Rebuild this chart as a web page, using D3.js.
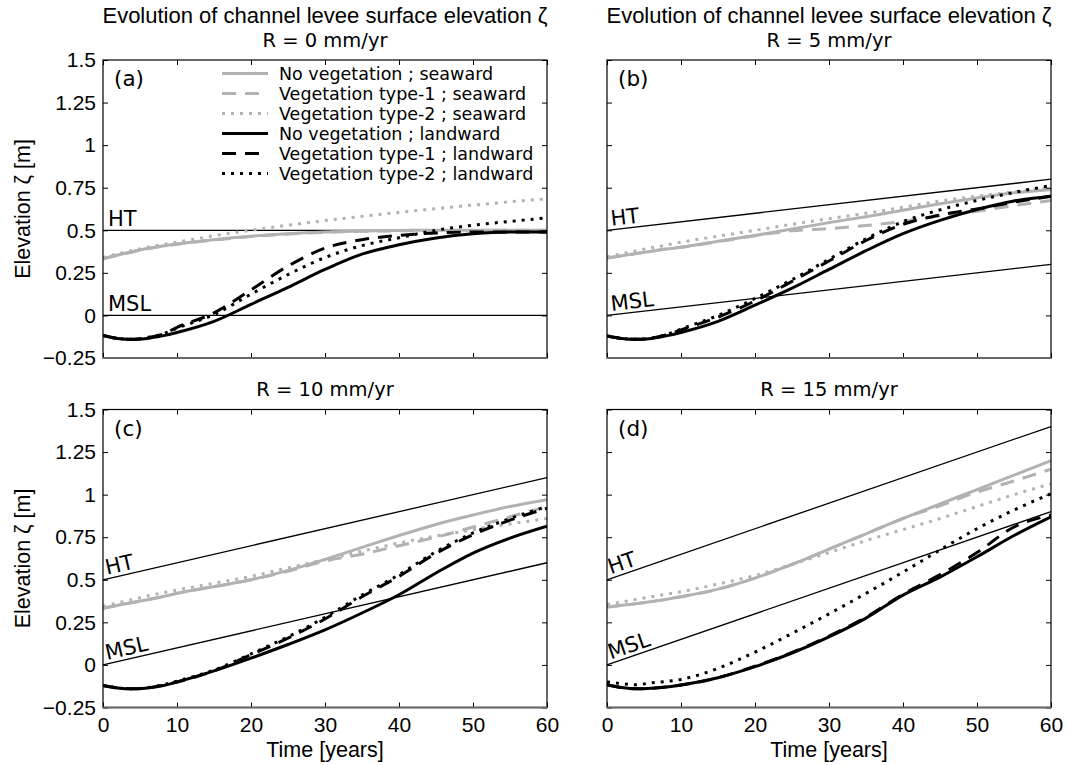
<!DOCTYPE html>
<html><head><meta charset="utf-8">
<script src="https://cdn.jsdelivr.net/npm/d3@7"></script>
<style>
body{margin:0;background:#fff;}
svg{display:block;}
.arial{font-family:"Liberation Sans",Arial,sans-serif;}
.dv{font-family:"DejaVu Sans",Verdana,sans-serif;}
</style></head>
<body>
<svg id="chart" width="1067" height="765"></svg>
<script>
// ---- data ----
const years = [0,2,4,6,8,10,15,20,25,30,35,40,45,50,55,60];
const panelLetters = ["(a)","(b)","(c)","(d)"];
const panelTitles = ["R = 0 mm/yr","R = 5 mm/yr","R = 10 mm/yr","R = 15 mm/yr"];
const mainTitle = "Evolution of channel levee surface elevation ζ";
const yTickValues = [-0.25,0,0.25,0.5,0.75,1,1.25,1.5];
const yTickLabels = ["\u22120.25","0","0.25","0.5","0.75","1","1.25","1.5"];
const xTickValues = [0,10,20,30,40,50,60];
const xTickLabels = ["0","10","20","30","40","50","60"];
const htStart = [0.5,0.5,0.5,0.5];
const htEnd = [0.5,0.8,1.1,1.4];
const mslStart = [0,0,0,0];
const mslEnd = [0,0.3,0.6,0.9];
const seriesNames = ["No vegetation ; seaward","Vegetation type-1 ; seaward","Vegetation type-2 ; seaward",
  "No vegetation ; landward","Vegetation type-1 ; landward","Vegetation type-2 ; landward"];

// panel (a) R = 0
const a_seaNoVeg = [0.333,0.355,0.375,0.393,0.408,0.42,0.445,0.465,0.48,0.49,0.496,0.499,0.5,0.5,0.5,0.5];
const a_seaVeg1  = [0.333,0.354,0.373,0.391,0.406,0.418,0.443,0.463,0.478,0.488,0.494,0.497,0.498,0.499,0.5,0.5];
const a_seaVeg2  = [0.34,0.362,0.382,0.40,0.416,0.43,0.468,0.50,0.53,0.557,0.582,0.605,0.627,0.648,0.667,0.685];
const a_landNoVeg= [-0.117,-0.135,-0.141,-0.135,-0.12,-0.1,-0.035,0.065,0.165,0.27,0.36,0.415,0.455,0.48,0.49,0.49];
const a_landVeg1 = [-0.117,-0.135,-0.14,-0.13,-0.112,-0.07,0.015,0.15,0.29,0.395,0.445,0.47,0.484,0.49,0.49,0.49];
const a_landVeg2 = [-0.117,-0.135,-0.14,-0.13,-0.11,-0.075,0.005,0.125,0.24,0.34,0.41,0.456,0.5,0.53,0.552,0.573];
// panel (b) R = 5
const b_seaNoVeg = [0.337,0.35,0.364,0.377,0.39,0.40,0.436,0.47,0.507,0.545,0.58,0.618,0.656,0.69,0.72,0.74];
const b_seaVeg1  = [0.337,0.35,0.364,0.377,0.39,0.40,0.433,0.468,0.497,0.51,0.528,0.552,0.585,0.612,0.645,0.675];
const b_seaVeg2  = [0.345,0.362,0.38,0.397,0.413,0.43,0.465,0.50,0.535,0.568,0.60,0.635,0.672,0.70,0.727,0.753];
const b_landNoVeg= [-0.12,-0.135,-0.14,-0.135,-0.12,-0.1,-0.035,0.06,0.16,0.27,0.38,0.48,0.558,0.622,0.672,0.70];
const b_landVeg1 = [-0.12,-0.135,-0.14,-0.133,-0.115,-0.085,-0.01,0.085,0.20,0.32,0.44,0.535,0.59,0.625,0.665,0.70];
const b_landVeg2 = [-0.12,-0.135,-0.14,-0.133,-0.113,-0.08,0.0,0.10,0.21,0.33,0.45,0.55,0.62,0.675,0.722,0.763];
// panel (c) R = 10
const c_seaNoVeg = [0.333,0.35,0.367,0.383,0.40,0.42,0.46,0.50,0.555,0.62,0.69,0.76,0.825,0.88,0.93,0.97];
const c_seaVeg1  = [0.333,0.35,0.367,0.383,0.40,0.42,0.46,0.50,0.55,0.61,0.65,0.70,0.75,0.81,0.87,0.93];
const c_seaVeg2  = [0.343,0.365,0.385,0.405,0.423,0.44,0.48,0.52,0.57,0.618,0.668,0.716,0.757,0.794,0.828,0.86];
const c_landNoVeg= [-0.12,-0.135,-0.14,-0.135,-0.122,-0.1,-0.035,0.04,0.12,0.206,0.305,0.412,0.54,0.657,0.745,0.815];
const c_landVeg1 = [-0.12,-0.135,-0.14,-0.135,-0.12,-0.1,-0.035,0.06,0.157,0.27,0.40,0.52,0.655,0.765,0.85,0.92];
const c_landVeg2 = [-0.12,-0.135,-0.14,-0.133,-0.118,-0.095,-0.03,0.065,0.165,0.28,0.41,0.53,0.665,0.775,0.86,0.93];
// panel (d) R = 15
const d_seaNoVeg = [0.34,0.35,0.36,0.372,0.385,0.40,0.445,0.51,0.59,0.68,0.77,0.86,0.945,1.03,1.115,1.2];
const d_seaVeg1  = [0.34,0.35,0.36,0.372,0.385,0.40,0.445,0.51,0.59,0.68,0.77,0.86,0.935,1.015,1.08,1.15];
const d_seaVeg2  = [0.355,0.37,0.385,0.40,0.415,0.43,0.475,0.525,0.59,0.66,0.73,0.795,0.86,0.93,1.0,1.064];
const d_landNoVeg= [-0.116,-0.133,-0.14,-0.137,-0.13,-0.118,-0.075,-0.01,0.07,0.165,0.275,0.41,0.516,0.635,0.76,0.87];
const d_landVeg1 = [-0.116,-0.133,-0.14,-0.137,-0.13,-0.118,-0.075,-0.008,0.073,0.17,0.28,0.415,0.53,0.66,0.81,0.88];
const d_landVeg2 = [-0.10,-0.11,-0.116,-0.105,-0.097,-0.085,-0.02,0.075,0.185,0.30,0.42,0.545,0.675,0.80,0.91,1.005];

const panelSeries = [
  [a_seaNoVeg,a_seaVeg1,a_seaVeg2,a_landNoVeg,a_landVeg1,a_landVeg2],
  [b_seaNoVeg,b_seaVeg1,b_seaVeg2,b_landNoVeg,b_landVeg1,b_landVeg2],
  [c_seaNoVeg,c_seaVeg1,c_seaVeg2,c_landNoVeg,c_landVeg1,c_landVeg2],
  [d_seaNoVeg,d_seaVeg1,d_seaVeg2,d_landNoVeg,d_landVeg1,d_landVeg2]
];

// ---- styles ----
const GRAY = "#b2b2b2";
const styles = [
  {color:GRAY, dash:null, w:3},
  {color:GRAY, dash:"14,9", w:3},
  {color:GRAY, dash:"3,6", w:3},
  {color:"#000", dash:null, w:3},
  {color:"#000", dash:"14,9", w:3},
  {color:"#000", dash:"3,6", w:3}
];

const svg = d3.select("#chart");
const W = 444, H = 298;
const origins = [[103,60],[607,60],[103,409.5],[607,409.5]];
const x = d3.scaleLinear().domain([0,60]).range([0,W]);
const y = d3.scaleLinear().domain([-0.25,1.5]).range([H,0]);

origins.forEach((o,i)=>{
  const g = svg.append("g").attr("transform",`translate(${o[0]},${o[1]})`);
  const clipId = "clip"+i;
  g.append("clipPath").attr("id",clipId).append("rect").attr("width",W).attr("height",H);

  // reference lines HT and MSL
  const refs = [["HT",htStart[i],htEnd[i]],["MSL",mslStart[i],mslEnd[i]]];
  refs.forEach(r=>{
    g.append("line").attr("x1",x(0)).attr("x2",x(60)).attr("y1",y(r[1])).attr("y2",y(r[2]))
      .attr("stroke","#000").attr("stroke-width",1.3);
    const ang = Math.atan2(y(r[2])-y(r[1]), x(60)-x(0))*180/Math.PI;
    const px = 5, py = y(r[1]) + (y(r[2])-y(r[1]))*px/W;
    g.append("text").attr("class","dv").attr("font-size",21)
      .attr("transform",`translate(${px},${py}) rotate(${ang}) translate(0,-4)`)
      .text(r[0]);
  });

  // curves
  const line = d3.line().x((d,k)=>x(years[k])).y(d=>y(d)).curve(d3.curveMonotoneX);
  const cg = g.append("g").attr("clip-path",`url(#${clipId})`);
  panelSeries[i].forEach((s,k)=>{
    const st = styles[k];
    cg.append("path").datum(s).attr("d",line).attr("fill","none")
      .attr("stroke",st.color).attr("stroke-width",st.w)
      .attr("stroke-dasharray",st.dash).attr("stroke-linejoin","round");
  });

  // axes (inward ticks on all sides)
  const isLeft = (i%2===0), isBottom = (i>=2);
  const yL = d3.axisLeft(y).tickValues(yTickValues).tickSizeInner(-5).tickSizeOuter(0).tickPadding(7)
    .tickFormat((d,k)=> isLeft ? yTickLabels[k] : "");
  const yR = d3.axisRight(y).tickValues(yTickValues).tickSizeInner(-5).tickSizeOuter(0).tickFormat("");
  const xB = d3.axisBottom(x).tickValues(xTickValues).tickSizeInner(-5).tickSizeOuter(0).tickPadding(10)
    .tickFormat((d,k)=> isBottom ? xTickLabels[k] : "");
  const xT = d3.axisTop(x).tickValues(xTickValues).tickSizeInner(-5).tickSizeOuter(0).tickFormat("");
  const gl = g.append("g").call(yL);
  const gr = g.append("g").attr("transform",`translate(${W},0)`).call(yR);
  const gb = g.append("g").attr("transform",`translate(0,${H})`).call(xB);
  const gt = g.append("g").call(xT);
  [gl,gr,gb,gt].forEach(a=>{
    a.select(".domain").remove();
    a.selectAll(".tick line").attr("stroke","#000").attr("stroke-width",1);
    a.selectAll("text").attr("class","arial").attr("font-size",21).attr("fill","#000");
  });
  // box
  g.append("rect").attr("width",W).attr("height",H).attr("fill","none").attr("stroke","#000").attr("stroke-width",1.2);
  g.append("line").attr("x1",0).attr("x2",W).attr("y1",H).attr("y2",H).attr("stroke","#666").attr("stroke-width",2);

  // panel letter
  g.append("text").attr("class","dv").attr("font-size",21.5).attr("x",11).attr("y",26).text(panelLetters[i]);

  // titles
  if(i<2){
    svg.append("text").attr("class","arial").attr("font-size",22).attr("text-anchor","middle")
      .attr("x",o[0]+W/2).attr("y",23).text(mainTitle);
    svg.append("text").attr("class","dv").attr("font-size",19.5).attr("text-anchor","middle")
      .attr("x",o[0]+W/2).attr("y",47).text(panelTitles[i]);
  } else {
    svg.append("text").attr("class","dv").attr("font-size",19.5).attr("text-anchor","middle")
      .attr("x",o[0]+W/2).attr("y",396).text(panelTitles[i]);
    svg.append("text").attr("class","arial").attr("font-size",21.5).attr("text-anchor","middle")
      .attr("x",o[0]+W/2).attr("y",757).text("Time [years]");
  }
  if(isLeft){
    svg.append("text").attr("class","arial").attr("font-size",21.5).attr("text-anchor","middle")
      .attr("transform",`translate(30,${o[1]+H/2}) rotate(-90)`).text("Elevation ζ [m]");
  }

  // legend in panel (a)
  if(i===0){
    const lg = g.append("g");
    seriesNames.forEach((nm,k)=>{
      const yy = 13.5 + 20*k;
      const st = styles[k];
      lg.append("line").attr("x1",119).attr("x2",165).attr("y1",yy).attr("y2",yy)
        .attr("stroke",st.color).attr("stroke-width",st.w).attr("stroke-dasharray",st.dash);
      lg.append("text").attr("class","dv").attr("font-size",17.5).attr("x",176).attr("y",yy)
        .attr("dy","0.35em").text(nm);
    });
  }
});
</script>
</body></html>
